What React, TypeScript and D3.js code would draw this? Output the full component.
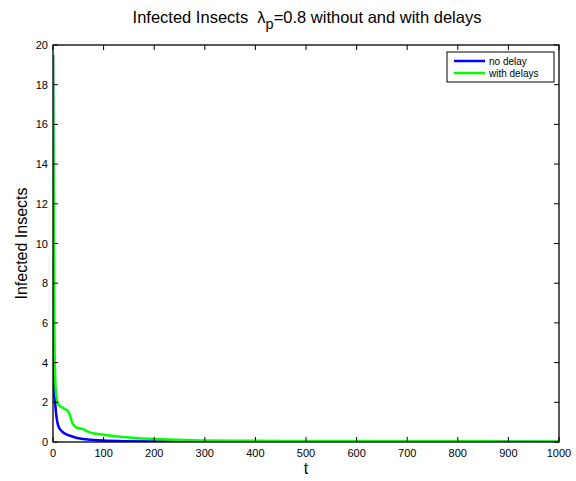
import React from "react";
import * as d3 from "d3";

// Time points and infected insect counts for the two model runs
const tNoDelay = [0, 0.5, 1, 1.5, 2, 3, 4.6, 6, 7.9, 10, 14.5, 20, 27.7, 35, 41, 50, 60, 80, 100, 150, 200, 300, 400, 600, 800, 1000];
const noDelay = [19.5, 11, 6.5, 4.4, 3.3, 2.4, 1.9, 1.45, 1.1, 0.85, 0.62, 0.48, 0.37, 0.3, 0.25, 0.19, 0.15, 0.1, 0.07, 0.04, 0.03, 0.02, 0.015, 0.01, 0.008, 0.006];

const tDelays = [0, 0.6, 1.3, 2, 2.6, 3.5, 4.6, 6, 7.9, 10, 14.5, 20, 24, 28, 31, 34, 37.5, 42, 47, 53, 60, 66, 74, 85, 100, 120, 140, 170, 199, 240, 291, 400, 500, 600, 700, 800, 900, 1000];
const withDelays = [19.5, 16, 12.4, 8.5, 5.7, 4.0, 3.0, 2.45, 2.1, 1.92, 1.8, 1.72, 1.65, 1.6, 1.5, 1.3, 1.0, 0.82, 0.72, 0.68, 0.65, 0.56, 0.47, 0.42, 0.37, 0.3, 0.25, 0.19, 0.15, 0.11, 0.08, 0.06, 0.05, 0.045, 0.04, 0.035, 0.03, 0.03];

const xTicks = [0, 100, 200, 300, 400, 500, 600, 700, 800, 900, 1000];
const yTicks = [0, 2, 4, 6, 8, 10, 12, 14, 16, 18, 20];

const seriesNames = ["no delay", "with delays"];
const seriesColors = ["#0000ff", "#00ff00"];

const W = 576;
const H = 481;
const left = 53;
const right = 559;
const top = 45;
const bottom = 442;
const font = "'Liberation Sans', Arial, Helvetica, sans-serif";

export default function App() {
  const x = d3.scaleLinear().domain([0, 1000]).range([left, right]);
  const y = d3.scaleLinear().domain([0, 20]).range([bottom, top]);
  const line = d3
    .line<[number, number]>()
    .x((d) => x(d[0]))
    .y((d) => y(d[1]))
    .curve(d3.curveMonotoneX);

  const blueData = tNoDelay.map((t, i) => [t, noDelay[i]] as [number, number]);
  const greenData = tDelays.map((t, i) => [t, withDelays[i]] as [number, number]);

  return (
    <svg
      width={W}
      height={H}
      style={{ position: "absolute", left: 0, top: 0, background: "#fff" }}
      fontFamily={font}
    >
      <rect x={0} y={0} width={W} height={H} fill="#fff" />
      <defs>
        <clipPath id="plotClip">
          <rect x={left} y={top} width={right - left} height={bottom - top} />
        </clipPath>
      </defs>

      {/* Title */}
      <text x={307} y={23} fontSize={16.5} textAnchor="middle" fill="#000" style={{ whiteSpace: "pre" }}>
        <tspan>{"Infected Insects\u00a0\u00a0λ"}</tspan>
        <tspan fontSize={14.5} dy={6}>p</tspan>
        <tspan dy={-6}>=0.8 without and with delays</tspan>
      </text>

      {/* Curves */}
      <g clipPath="url(#plotClip)">
        <path d={line(blueData) ?? ""} fill="none" stroke={seriesColors[0]} strokeWidth={2.5} />
        <path d={line(greenData) ?? ""} fill="none" stroke={seriesColors[1]} strokeWidth={2.5} />
      </g>

      {/* Ticks on all four sides, pointing inward */}
      {xTicks.map((t) => (
        <g key={"xt" + t}>
          <line x1={x(t)} x2={x(t)} y1={bottom} y2={bottom - 5} stroke="#000" />
          <line x1={x(t)} x2={x(t)} y1={top} y2={top + 5} stroke="#000" />
          <text x={x(t)} y={bottom + 15} fontSize={11} textAnchor="middle" fill="#000">
            {t}
          </text>
        </g>
      ))}
      {yTicks.map((v) => (
        <g key={"yt" + v}>
          <line x1={left} x2={left + 5} y1={y(v)} y2={y(v)} stroke="#000" />
          <line x1={right} x2={right - 5} y1={y(v)} y2={y(v)} stroke="#000" />
          <text x={left - 5} y={y(v) + 4} fontSize={11} textAnchor="end" fill="#000">
            {v}
          </text>
        </g>
      ))}

      {/* Axes box */}
      <rect x={left} y={top} width={right - left} height={bottom - top} fill="none" stroke="#000" strokeWidth={1.3} />

      {/* Axis labels */}
      <text x={306} y={474} fontSize={16} textAnchor="middle" fill="#000">
        t
      </text>
      <text
        transform={`translate(27, ${(top + bottom) / 2}) rotate(-90)`}
        fontSize={16}
        textAnchor="middle"
        fill="#000"
      >
        Infected Insects
      </text>

      {/* Legend */}
      <rect x={447} y={52} width={107} height={30} fill="#fff" stroke="#000" strokeWidth={1} />
      {seriesNames.map((name, i) => (
        <g key={name}>
          <line x1={454} x2={485} y1={61 + i * 12} y2={61 + i * 12} stroke={seriesColors[i]} strokeWidth={2.5} />
          <text x={489} y={64.5 + i * 12} fontSize={10} fill="#000">
            {name}
          </text>
        </g>
      ))}
    </svg>
  );
}
